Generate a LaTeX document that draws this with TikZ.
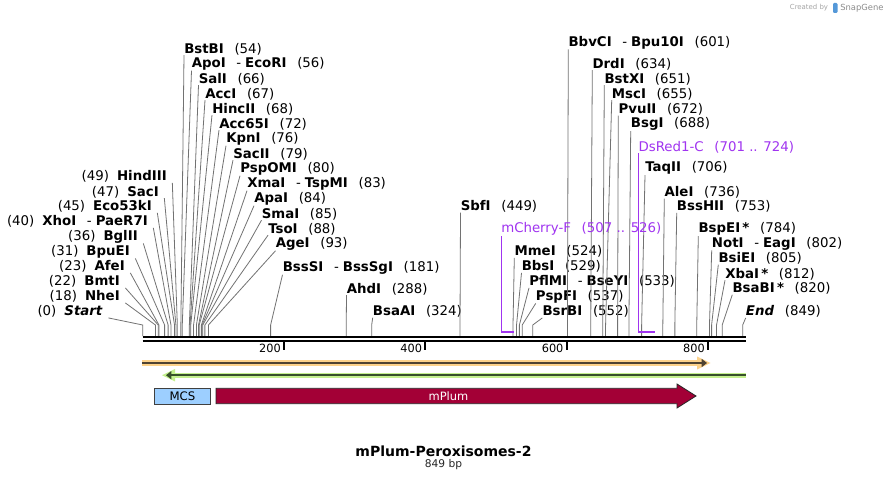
\documentclass[tikz,border=0pt]{standalone}
\usepackage{fontspec}
\setmainfont{DejaVu Sans}
\usetikzlibrary{arrows.meta}
\definecolor{sitegray}{HTML}{727272}
\definecolor{primer}{HTML}{A034F0}
\definecolor{mplumfill}{HTML}{A30036}
\definecolor{mcsfill}{HTML}{9DCFFF}
\definecolor{orfband}{HTML}{FDD28A}
\definecolor{orfline}{HTML}{4F4332}
\definecolor{grnband}{HTML}{C4F08E}
\definecolor{grnline}{HTML}{37502A}
\newcommand{\enzdash}{\hspace{8pt}\textmd{-}\hspace{3pt}}

\begin{document}
\begin{tikzpicture}[x=0.75pt, y=-0.75pt,
  every node/.style={inner sep=0pt, font=\fontsize{10}{12}\selectfont},
  rlabel/.style={anchor=west},
  llabel/.style={anchor=east},
  siteline/.style={draw=sitegray, line width=0.6pt},
  primerline/.style={draw=primer, line width=0.75pt},
  primerbar/.style={draw=primer, line width=1.4pt},
  ticklabel/.style={anchor=east, font=\fontsize{8.5}{10}\selectfont}]
\fill[white] (0,0) rectangle (888,481);
\useasboundingbox (0,0) rectangle (888,481);

% watermark
\node[text=black!35, font=\fontsize{5.2}{6}\selectfont] (made) at (809,8) {Created by};
\fill[cyan!60!blue!70, rounded corners=0.8pt] (833,3) rectangle (837.5,13);
\node[text=black!45, font=\fontsize{6.3}{7}\selectfont, anchor=west] (snap) at (840,8) {SnapGene};

% sites with labels to the right
\foreach \lx/\ly/\nm/\bp in {184/49/BstBI/54, 191.5/64/{ApoI\enzdash EcoRI}/56,
  198.5/79/SalI/66, 205/94/AccI/67, 212/109/HincII/68, 219/124/Acc65I/72,
  226/139/KpnI/76, 233/154/SacII/79, 240/169/PspOMI/80,
  247/184/{XmaI\enzdash TspMI}/83, 254/199/ApaI/84, 261.5/214/SmaI/85,
  268/229/TsoI/88, 275.5/244/AgeI/93, 282.5/268/{BssSI\enzdash BssSgI}/181,
  346.5/289/AhdI/288, 372.7/311.5/BsaAI/324, 460.5/206.5/SbfI/449,
  514.3/251.7/MmeI/524, 521.5/266.7/BbsI/529, 529/281.7/{PflMI\enzdash BseYI}/533,
  535.7/296.7/PspFI/537, 542.3/311.7/BsrBI/552,
  568.3/42.7/{BbvCI\enzdash Bpu10I}/601, 592.3/64/DrdI/634, 604.3/79/BstXI/651,
  611.7/94/MscI/655, 618.3/109.3/PvuII/672, 630.7/124.3/BsgI/688,
  645/168.3/TaqII/706, 664.3/192.3/AleI/736, 676.7/206.7/BssHII/753,
  698.3/229.3/{BspEI\,*}/784, 711.7/243.5/{NotI\enzdash EagI}/802,
  718.3/258.5/BsiEI/805, 725/274/{XbaI\,*}/812, 732.3/288.5/{BsaBI\,*}/820,
  745.7/311.7/{\itshape End}/849}{
  \pgfmathsetmacro\sx{142.7+0.7067*\bp}
  \node[rlabel] (e\bp) at (\lx,\ly) {\textbf{\nm}\hspace{8pt}(\bp)};
  \coordinate (k\bp) at (\sx,325);
  \coordinate (s\bp) at (\sx,336);
  \draw[siteline] (e\bp.south west) -- (k\bp) -- (s\bp);
}

% sites with labels to the left
\foreach \rx/\ly/\nm/\bp in {103/311.7/{\itshape Start}/0, 120/296.7/NheI/18,
  120/281.7/BmtI/22, 125/266.7/AfeI/23, 130/251.7/BpuEI/31, 138/236.7/BglII/36,
  148/221.7/{XhoI\enzdash PaeR7I}/40, 152/206.7/Eco53kI/45, 159/192/SacI/47,
  167/176.7/HindIII/49}{
  \pgfmathsetmacro\sx{142.7+0.7067*\bp}
  \node[llabel] (e\bp) at (\rx,\ly) {(\bp)\hspace{6pt}\textbf{\nm}};
  \coordinate (k\bp) at (\sx,325);
  \coordinate (s\bp) at (\sx,336);
  \draw[siteline] ([xshift=4pt]e\bp.south east) -- (k\bp) -- (s\bp);
}

% primers
\node[rlabel, text=primer] (mchF) at (501,229.3) {mCherry-F\hspace{8pt}(507 .. 526)};
\coordinate (mchF1) at (501,332.3);
\coordinate (mchF2) at (514.4,332.3);
\draw[primerline] (mchF.south west) -- (mchF1);
\draw[primerbar] (mchF1) -- (mchF2);
\node[rlabel, text=primer] (dsrC) at (638.3,147) {DsRed1-C\hspace{8pt}(701 .. 724)};
\coordinate (dsrC1) at (638.3,332.3);
\coordinate (dsrC2) at (654.6,332.3);
\draw[primerline] (dsrC.south west) -- (dsrC1);
\draw[primerbar] (dsrC1) -- (dsrC2);

% backbone and ruler
\draw[line width=2pt] (142.5,337) -- (745.5,337);
\draw[line width=1.5pt] (142.5,341.3) -- (745.5,341.3);
\foreach \t in {200,400,600,800}{
  \pgfmathsetmacro\tx{142.7+0.7067*\t}
  \draw[line width=1.4pt] (\tx,342) -- (\tx,350);
  \node[ticklabel] (t\t) at (\tx-3,348.5) {\t};
}

% orange ORF
\draw[line width=4.3pt, orfband] (142,363) -- (703,363);
\fill[orfband] (697,356.5) -- (710.5,363) -- (697,369.5) -- cycle;
\draw[line width=1.3pt, orfline, -{Triangle[length=4pt,width=6pt]}] (142,363) -- (707,363);

% green ORF
\draw[line width=3.8pt, grnband] (170,375.2) -- (745.5,375.2);
\fill[grnband] (175,369) -- (162,375.2) -- (175,381.4) -- cycle;
\draw[line width=1.3pt, grnline, {Triangle[length=4pt,width=6pt]}-] (166,375.2) -- (745.5,375.2);

% features
\node[draw=black!75, line width=0.6pt, fill=mcsfill, minimum width=42.5pt, minimum height=12pt,
  font=\fontsize{8.8}{10}\selectfont] (mcs) at (182.5,396) {MCS};
\draw[fill=mplumfill, draw=black!85, line width=0.6pt]
  (216,388.3) -- (677,388.3) -- (677,384) -- (696,396) -- (677,408) -- (677,403.7)
  -- (216,403.7) -- cycle;
\node[text=white, font=\fontsize{8.6}{10}\selectfont] (mplum) at (448.5,396) {mPlum};

% title
\node[font=\bfseries\fontsize{10.5}{12}\selectfont] (title) at (443.5,451) {mPlum-Peroxisomes-2};
\node[text=black!85, font=\fontsize{8}{10}\selectfont] (size) at (443.5,465) {849 bp};
\end{tikzpicture}
\end{document}
